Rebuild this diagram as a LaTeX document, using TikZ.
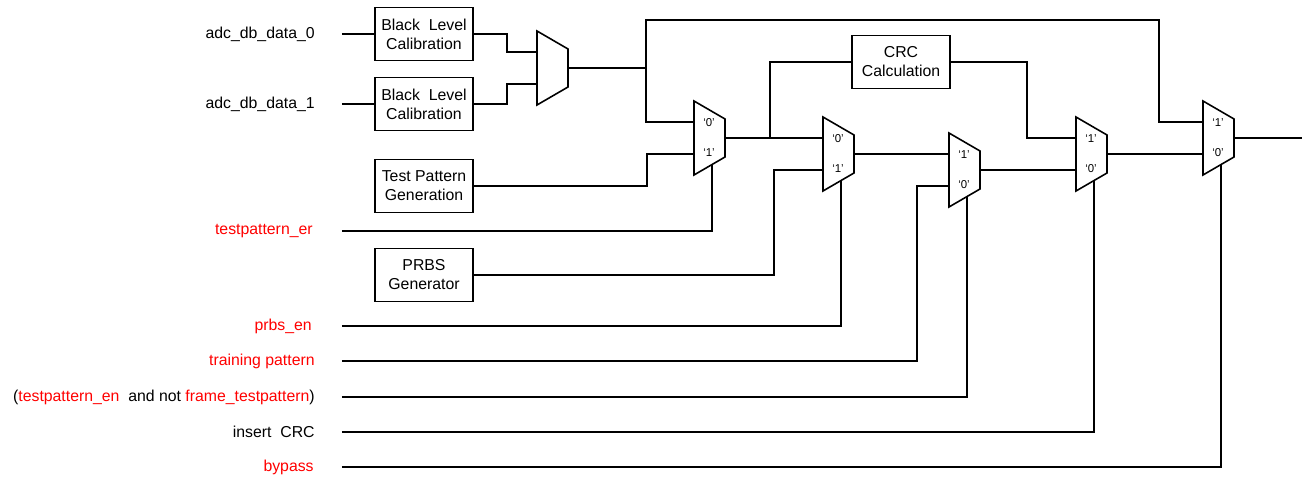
\documentclass[tikz,border=0pt]{standalone}
\usepackage{fontspec}
\setmainfont{Liberation Sans}
\usepackage{xcolor}

% мультиплексор: имя, x, y, метка верхнего входа, метка нижнего входа
\newcommand{\muxblk}[5]{%
    \begin{scope}[shift={(#2,#3)}]
        \draw[wire] (0,-37) -- (31,-19) -- (31,19) -- (0,37) -- cycle;
        \coordinate (#1-a) at (0,-16);
        \coordinate (#1-b) at (0,16);
        \coordinate (#1-o) at (31,0);
        \coordinate (#1-s) at (18,26.5);
        \node[muxlbl] (#1-la) at (15,-15) {#4};
        \node[muxlbl] (#1-lb) at (15,15) {#5};
    \end{scope}}

\begin{document}
\begin{tikzpicture}[
        x=0.02cm, y=-0.02cm,
        font=\fontsize{9}{10.8}\selectfont,
        wire/.style={line width=0.9pt},
        blk/.style={draw, line width=0.9pt, minimum width=1.96cm, minimum height=1.06cm, align=center, inner sep=1pt},
        sig/.style={anchor=east, inner sep=0pt},
        muxlbl/.style={font=\fontsize{6.5}{7.5}\selectfont, inner sep=0pt}
    ]
    \useasboundingbox (0,0) rectangle (1302,479);
    
    % Входные сигналы
    \node[sig] (d0) at (315,34) {adc\_db\_data\_0};
    \node[sig] (d1) at (315,104) {adc\_db\_data\_1};
    \node[sig, red] (tper) at (313,231) {testpattern\_er};
    \node[sig, red] (prbsen) at (312,326) {prbs\_en};
    \node[sig, red] (train) at (315,361) {training pattern};
    \node[sig] (tpen) at (315,397) {(\textcolor{red}{testpattern\_en}\ \ and not \textcolor{red}{frame\_testpattern})};
    \node[sig] (ins) at (315,432) {insert\ \ CRC};
    \node[sig, red] (byp) at (314,467) {bypass};
    
    % Блоки
    \node[blk] (blc0) at (424,34) {Black\ \ Level\\Calibration};
    \node[blk] (blc1) at (424,104) {Black\ \ Level\\Calibration};
    \node[blk] (tpg) at (424,186) {Test Pattern\\Generation};
    \node[blk] (prbs) at (424,275) {PRBS\\Generator};
    \node[blk] (crc) at (901,62) {CRC\\Calculation};
    
    % Мультиплексоры
    \muxblk{m0}{537}{68}{}{}
    \muxblk{m1}{694}{138}{`0'}{`1'}
    \muxblk{m2}{823}{154}{`0'}{`1'}
    \muxblk{m3}{949}{170}{`1'}{`0'}
    \muxblk{m4}{1076}{154}{`1'}{`0'}
    \muxblk{m5}{1203}{138}{`1'}{`0'}
    
    % Соединения
    \draw[wire] ([xshift=0.54cm]d0.east) -- (blc0.west);
    \draw[wire] ([xshift=0.54cm]d1.east) -- (blc1.west);
    \draw[wire] (blc0.east) -- ++(33,0) |- (m0-a);
    \draw[wire] (blc1.east) -- ++(33,0) |- (m0-b);
    \coordinate (j0) at (646,68);
    \draw[wire] (m0-o) -- (j0) |- (m1-a);
    \draw[wire] (j0) |- (1159,20) |- (m5-a);
    \draw[wire] (tpg.east) -- ++(173,0) |- (m1-b);
    \draw[wire] ([xshift=0.58cm]tper.east) -| (m1-s);
    \coordinate (j1) at (770,138);
    \draw[wire] (m1-o) -- (m2-a);
    \draw[wire] (j1) |- (crc.west);
    \draw[wire] (crc.east) -- ++(76,0) |- (m4-a);
    \draw[wire] (prbs.east) -- ++(300,0) |- (m2-b);
    \draw[wire] ([xshift=0.6cm]prbsen.east) -| (m2-s);
    \draw[wire] (m2-o) -- (m3-a);
    \draw[wire] ([xshift=0.54cm]train.east) -- ++(575,0) |- (m3-b);
    \draw[wire] ([xshift=0.54cm]tpen.east) -| (m3-s);
    \draw[wire] (m3-o) -- (m4-b);
    \draw[wire] ([xshift=0.54cm]ins.east) -| (m4-s);
    \draw[wire] (m4-o) -- (m5-b);
    \draw[wire] ([xshift=0.56cm]byp.east) -| (m5-s);
    \coordinate (out) at (1302,138);
    \draw[wire] (m5-o) -- (out);
    
\end{tikzpicture}
\end{document}
